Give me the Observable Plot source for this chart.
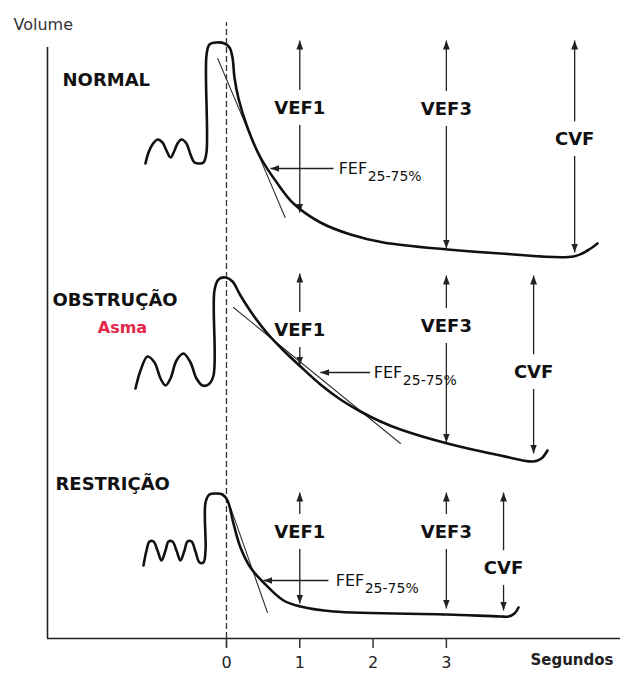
<!DOCTYPE html>
<html>
<head>
<meta charset="utf-8">
<script src="https://cdn.jsdelivr.net/npm/d3@7"></script>
<script src="https://cdn.jsdelivr.net/npm/@observablehq/plot@0.6"></script>
<style>
  html, body { margin: 0; padding: 0; background: #fff; }
  #chart svg { display: block; }
  g[aria-label="panel-labels"] text { letter-spacing: 2.5px; }
  g[aria-label="measure-labels"] text { letter-spacing: 1.5px; }
  g[aria-label="asma-label"] text { letter-spacing: 1.5px; }
  g[aria-label="x-title"] text { letter-spacing: 1.5px; }
  g[aria-label="fef-sub"] text { letter-spacing: 0.8px; }
</style>
</head>
<body>
<div id="chart"></div>
<script>
// ---------- DATA (time in seconds, volume in arbitrary units) ----------
const panelNames = ["NORMAL", "OBSTRUÇÃO", "RESTRIÇÃO"];
const panelLabelT = [-2.237, -2.374, -2.333];
const panelLabelV = [55.8, 33.8, 15.4];
const subLabel = ["Asma"];
const subLabelT = [-1.419];
const subLabelV = [31.1];

const normalT = [-1.105,-1.064,-1.010,-0.941,-0.873,-0.819,-0.764,-0.709,-0.668,-0.614,-0.546,-0.491,-0.437,-0.368,-0.314,-0.273,-0.273,-0.232,-0.136,-0.027,0.041,0.082,0.109,0.164,0.286,0.464,0.696,0.914,1.282,1.692,2.142,3.015,3.738,4.734,4.925,5.061];
const normalV = [47.5,48.6,49.4,49.9,49.6,48.8,48.1,48.8,49.5,49.9,49.5,48.4,47.6,47.5,47.6,48.6,58.3,59.4,59.6,59.5,59.1,58.1,56.1,54.0,51.1,48.1,45.5,43.5,41.6,40.4,39.6,38.9,38.5,38.2,38.8,39.5];

const obstrT = [-1.241,-1.173,-1.078,-0.982,-0.900,-0.832,-0.764,-0.682,-0.587,-0.491,-0.409,-0.327,-0.246,-0.177,-0.164,-0.109,-0.014,0.082,0.191,0.368,0.559,0.778,1.010,1.282,1.555,1.828,2.101,2.374,3.015,3.738,4.188,4.297,4.379];
const obstrV = [25.0,26.8,28.2,27.6,26.0,25.3,26.0,27.8,28.5,27.6,26.0,25.3,25.4,26.3,34.8,35.9,36.1,35.7,34.3,32.3,30.5,28.8,27.2,25.4,23.9,22.7,21.7,20.9,19.5,18.3,17.7,18.0,18.8];

const restrT = [-1.132,-1.091,-1.050,-0.996,-0.941,-0.887,-0.832,-0.791,-0.737,-0.682,-0.628,-0.573,-0.532,-0.477,-0.423,-0.368,-0.314,-0.286,-0.286,-0.232,-0.136,-0.055,0.014,0.095,0.191,0.327,0.505,0.778,1.010,1.460,3.015,3.738,3.847,3.929,3.984];
const restrV = [7.3,8.8,9.7,9.7,8.8,7.8,8.8,9.7,9.7,8.8,7.8,8.8,9.7,9.7,8.7,7.6,7.6,8.8,13.6,14.4,14.5,14.4,13.8,11.5,9.1,7.1,5.6,3.8,3.2,2.7,2.4,2.2,2.2,2.5,3.1];

const normalTanT = [-0.12, 0.80];  const normalTanV = [58.0, 42.1];
const obstrTanT  = [0.095, 2.374]; const obstrTanV  = [33.1, 19.5];
const restrTanT  = [0.055, 0.559]; const restrTanV  = [13.1, 2.6];

const measures = ["VEF1", "VEF3", "CVF"];
const normalMeasureT = [1, 3, 4.75];
const normalMeasureTop = [59.8, 59.8, 59.8];
const normalMeasureBottom = [42.6, 39.0, 38.6];
const normalMeasureLabelV = [53.0, 52.9, 49.9];

const obstrMeasureT = [1, 3, 4.19];
const obstrMeasureTop = [36.5, 36.3, 36.3];
const obstrMeasureBottom = [27.3, 19.6, 18.5];
const obstrMeasureLabelV = [30.8, 31.2, 26.6];

const restrMeasureT = [1, 3, 3.78];
const restrMeasureTop = [14.6, 14.6, 14.6];
const restrMeasureBottom = [3.5, 3.0, 2.8];
const restrMeasureLabelV = [10.6, 10.6, 7.0];

const fefName = "FEF";
const fefSub = "25-75%";
const fefHeadT = [0.60, 1.28, 0.505];
const fefTailT = [1.46, 1.96, 1.39];
const fefV = [47.0, 26.6, 5.8];
const fefLabelT = [1.53, 2.01, 1.49];

const xTicks = [0, 1, 2, 3];
const xTitle = ["Segundos"]; const xTitleT = [4.147]; const xTitleV = [-2.2];
const yTitle = ["Volume"];   const yTitleT = [-2.906]; const yTitleV = [61.4];
const yAxisT = [-2.442]; const yAxisTop = [59.1];
const xAxisEndT = [5.375];
const zeroLineV = [-0.9, 61.6];

// ---------- build tables ----------
const pts = (T, V) => T.map((t, i) => ({t, v: V[i]}));
const measureRows = (T, top, bottom, lab) =>
  measures.map((m, i) => ({m, t: T[i], top: top[i], bottom: bottom[i], lab: lab[i]}));
const arrows = [
  ...measureRows(normalMeasureT, normalMeasureTop, normalMeasureBottom, normalMeasureLabelV),
  ...measureRows(obstrMeasureT, obstrMeasureTop, obstrMeasureBottom, obstrMeasureLabelV),
  ...measureRows(restrMeasureT, restrMeasureTop, restrMeasureBottom, restrMeasureLabelV)
];
const fefRows = fefV.map((v, i) => ({v, head: fefHeadT[i], tail: fefTailT[i], lab: fefLabelT[i]}));
const panelRows = panelNames.map((n, i) => ({n, t: panelLabelT[i], v: panelLabelV[i]}));

// filled triangular arrowhead marker
function tri(color, context) {
  const doc = (context && context.document) || document;
  const ns = "http://www.w3.org/2000/svg";
  const m = doc.createElementNS(ns, "marker");
  m.setAttribute("viewBox", "-9 -4 9 8");
  m.setAttribute("markerWidth", 9);
  m.setAttribute("markerHeight", 8);
  m.setAttribute("markerUnits", "userSpaceOnUse");
  m.setAttribute("orient", "auto-start-reverse");
  m.setAttribute("refX", 0);
  m.setAttribute("refY", 0);
  const p = doc.createElementNS(ns, "path");
  p.setAttribute("d", "M-9,-3.4L0,0L-9,3.4Z");
  p.setAttribute("fill", color);
  p.setAttribute("stroke", "none");
  m.appendChild(p);
  return m;
}

const ink = "#111";
const plot = Plot.plot({
  width: 627,
  height: 675,
  marginTop: 0, marginRight: 0, marginBottom: 37, marginLeft: 0,
  x: {domain: [-3.083, 5.471]},
  y: {domain: [0, 63.8], axis: null},
  style: {fontFamily: "DejaVu Sans", background: "white", color: ink},
  marks: [
    Plot.ruleX(yAxisT, {y1: 0, y2: yAxisTop[0], stroke: "#222", strokeWidth: 1.6}),
    Plot.ruleY([0], {x1: yAxisT[0], x2: xAxisEndT[0], stroke: "#222", strokeWidth: 1.6}),
    Plot.axisX(xTicks, {tickSize: 10, tickPadding: 8, fontSize: 16, stroke: "#333", strokeWidth: 1.5, fill: "#222", label: null}),
    Plot.ruleX([0], {y1: zeroLineV[0], y2: zeroLineV[1], stroke: "#333", strokeWidth: 1.3, strokeDasharray: "6,3"}),
    Plot.link(arrows, {x1: "t", x2: "t", y1: "top", y2: "bottom", stroke: "#222", strokeWidth: 1.3, markerStart: tri, markerEnd: tri}),
    Plot.link(fefRows, {x1: "tail", x2: "head", y1: "v", y2: "v", stroke: "#222", strokeWidth: 1.3, markerEnd: tri}),
    Plot.text(arrows, {x: "t", y: "lab", text: "m", fontWeight: "bold", fontSize: 18, fill: ink, stroke: "white", strokeWidth: 22, strokeLinejoin: "round", ariaLabel: "measure-labels"}),
    Plot.text(fefRows, {x: "lab", y: "v", text: () => fefName, textAnchor: "start", fontSize: 16, fill: ink}),
    Plot.text(fefRows, {x: "lab", y: "v", text: () => fefSub, textAnchor: "start", fontSize: 14, dx: 29, dy: 8, fill: ink, ariaLabel: "fef-sub"}),
    Plot.line(pts(normalTanT, normalTanV), {x: "t", y: "v", stroke: "#333", strokeWidth: 1.1}),
    Plot.line(pts(obstrTanT, obstrTanV), {x: "t", y: "v", stroke: "#333", strokeWidth: 1.1}),
    Plot.line(pts(restrTanT, restrTanV), {x: "t", y: "v", stroke: "#333", strokeWidth: 1.1}),
    Plot.line(pts(normalT, normalV), {x: "t", y: "v", curve: "catmull-rom", stroke: ink, strokeWidth: 2.6}),
    Plot.line(pts(obstrT, obstrV), {x: "t", y: "v", curve: "catmull-rom", stroke: ink, strokeWidth: 2.6}),
    Plot.line(pts(restrT, restrV), {x: "t", y: "v", curve: "catmull-rom", stroke: ink, strokeWidth: 2.6}),
    Plot.text(panelRows, {x: "t", y: "v", text: "n", textAnchor: "start", fontWeight: "bold", fontSize: 18, fill: ink, ariaLabel: "panel-labels"}),
    Plot.text(subLabel, {x: () => subLabelT[0], y: () => subLabelV[0], text: d => d, fontWeight: "bold", fontSize: 16, fill: "#e3264a", ariaLabel: "asma-label"}),
    Plot.text(xTitle, {x: () => xTitleT[0], y: () => xTitleV[0], text: d => d, textAnchor: "start", fontWeight: "bold", fontSize: 15, fill: "#222", ariaLabel: "x-title"}),
    Plot.text(yTitle, {x: () => yTitleT[0], y: () => yTitleV[0], text: d => d, textAnchor: "start", fontSize: 16, fill: "#333", ariaLabel: "y-title"})
  ]
});
document.getElementById("chart").appendChild(plot);
</script>
</body>
</html>
